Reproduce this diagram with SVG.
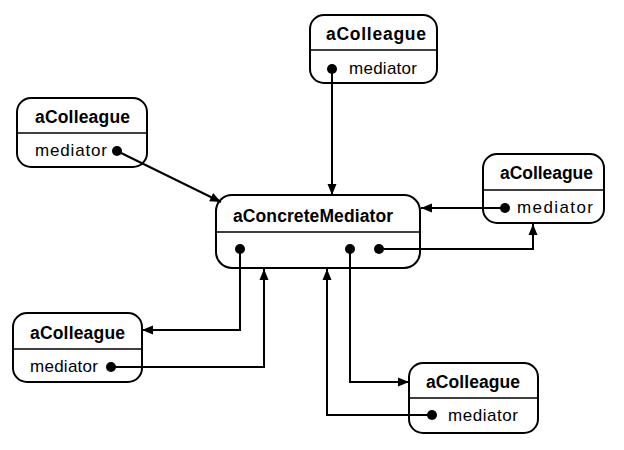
<svg xmlns="http://www.w3.org/2000/svg" width="624" height="450" viewBox="0 0 624 450">
<defs>
<style>
.box{fill:#fff;stroke:#000;stroke-width:2}
.div{stroke:#000;stroke-width:1.5}
.title{font-family:"Liberation Sans",Arial,sans-serif;font-weight:bold;font-size:17.5px;fill:#000}
.field{font-family:"Liberation Sans",Arial,sans-serif;font-size:17px;fill:#000}
.dot{fill:#000}
.conn{fill:none;stroke:#000;stroke-width:2;marker-end:url(#arrow)}
</style>
<marker id="arrow" markerUnits="userSpaceOnUse" markerWidth="12" markerHeight="10" refX="11" refY="5" orient="auto">
<path d="M0,0.5 L11,5 L0,9.5 z" fill="#000"/>
</marker>
</defs>
<rect width="624" height="450" fill="#fff"/>
<g id="mediator">
<rect class="box" x="216" y="195" width="204" height="73" rx="16"/>
<line class="div" x1="216" y1="232" x2="420" y2="232"/>
<text class="title" x="233" y="222" textLength="160">aConcreteMediator</text>
<circle class="dot" cx="240" cy="249" r="5"/>
<circle class="dot" cx="350" cy="249" r="5"/>
<circle class="dot" cx="379" cy="249" r="5"/>
</g>
<g id="colleague-top">
<rect class="box" x="310" y="15" width="127" height="68" rx="14"/>
<line class="div" x1="310" y1="50" x2="437" y2="50"/>
<text class="title" x="326" y="40" textLength="100">aColleague</text>
<circle class="dot" cx="332" cy="69" r="5"/>
<text class="field" x="349" y="74" textLength="68">mediator</text>
</g>
<g id="colleague-left">
<rect class="box" x="17" y="98" width="130" height="69" rx="14"/>
<line class="div" x1="17" y1="133" x2="147" y2="133"/>
<text class="title" x="35" y="123" textLength="95">aColleague</text>
<text class="field" x="35" y="156" textLength="72">mediator</text>
<circle class="dot" cx="117" cy="151" r="5"/>
</g>
<g id="colleague-right">
<rect class="box" x="483" y="154" width="121" height="69" rx="14"/>
<line class="div" x1="483" y1="190" x2="604" y2="190"/>
<text class="title" x="500" y="179" textLength="93">aColleague</text>
<circle class="dot" cx="505" cy="208" r="5"/>
<text class="field" x="517" y="213" textLength="76">mediator</text>
</g>
<g id="colleague-bottom-left">
<rect class="box" x="13" y="313" width="129" height="69" rx="14"/>
<line class="div" x1="13" y1="349" x2="142" y2="349"/>
<text class="title" x="30" y="339" textLength="95">aColleague</text>
<text class="field" x="30" y="372" textLength="68">mediator</text>
<circle class="dot" cx="111" cy="367" r="5"/>
</g>
<g id="colleague-bottom-right">
<rect class="box" x="409" y="363" width="129" height="70" rx="14"/>
<line class="div" x1="409" y1="398" x2="538" y2="398"/>
<text class="title" x="426" y="388" textLength="94">aColleague</text>
<circle class="dot" cx="432" cy="415" r="5"/>
<text class="field" x="448" y="421" textLength="70">mediator</text>
</g>
<g id="connectors">
<path class="conn" d="M332,70 L332,195"/>
<path class="conn" d="M117,151 L221,202"/>
<path class="conn" d="M505,208 L421,208"/>
<path class="conn" d="M379,249 L533,249 L533,224"/>
<path class="conn" d="M240,249 L240,330 L142,330"/>
<path class="conn" d="M111,367 L264,367 L264,269"/>
<path class="conn" d="M350,249 L350,382 L409,382"/>
<path class="conn" d="M432,415 L327,415 L327,269"/>
</g>
</svg>
